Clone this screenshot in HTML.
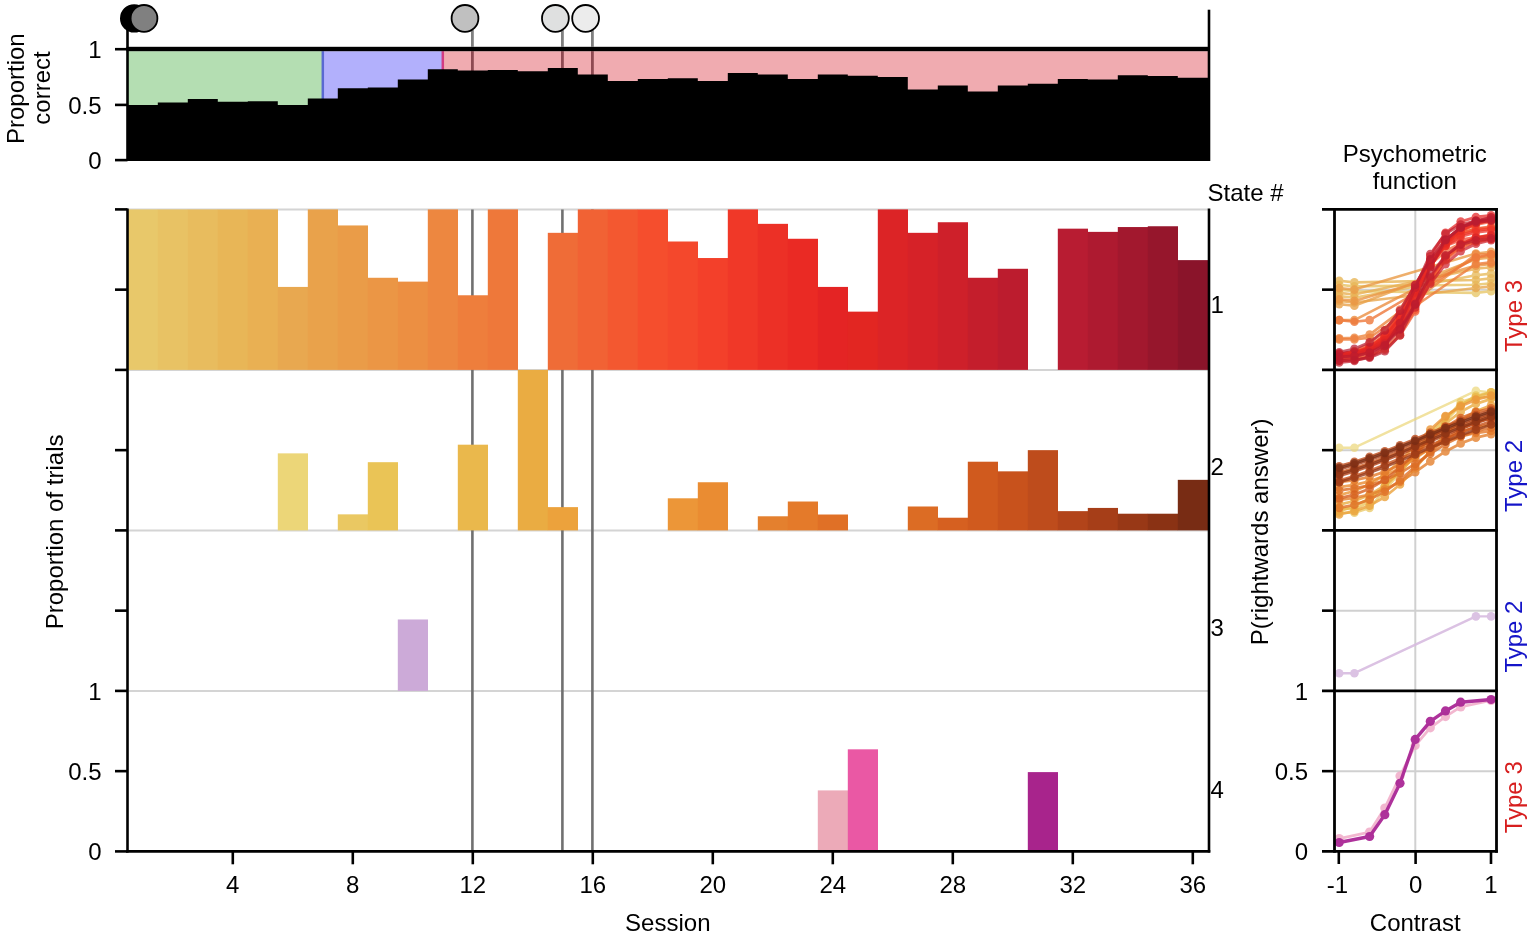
<!DOCTYPE html>
<html><head><meta charset="utf-8"><title>Figure</title>
<style>
html,body{margin:0;padding:0;background:#fff;}
body{width:1536px;height:937px;overflow:hidden;}
svg{display:block;font-family:"Liberation Sans", Arial, Helvetica, sans-serif;}
</style></head>
<body>
<svg width="1536" height="937" viewBox="0 0 1536 937">
<rect width="1536" height="937" fill="#fff"/>
<rect x="127.8" y="51.2" width="195.0" height="109.8" fill="#b4deb2"/>
<rect x="322.8" y="51.2" width="120" height="109.8" fill="#b2b0fc"/>
<rect x="442.8" y="51.2" width="765.8" height="109.8" fill="#f0abb0"/>
<line x1="322.8" y1="51.2" x2="322.8" y2="100" stroke="#5a69d2" stroke-width="2.5"/>
<line x1="442.8" y1="51.2" x2="442.8" y2="80" stroke="#d23c82" stroke-width="2.5"/>
<line x1="472.40000000000003" y1="51.2" x2="472.40000000000003" y2="71.5" stroke="#8e4a52" stroke-width="2.8"/>
<line x1="562.4" y1="51.2" x2="562.4" y2="68.9" stroke="#8e4a52" stroke-width="2.8"/>
<line x1="592.4" y1="51.2" x2="592.4" y2="75.6" stroke="#8e4a52" stroke-width="2.8"/>
<path d="M127.8 161.0 L127.8 105.1 L157.8 105.1 L157.8 102.5 L187.8 102.5 L187.8 99.1 L217.8 99.1 L217.8 101.7 L247.8 101.7 L247.8 101.2 L277.8 101.2 L277.8 105.1 L307.8 105.1 L307.8 98.6 L337.8 98.6 L337.8 88.2 L367.8 88.2 L367.8 87.4 L397.8 87.4 L397.8 79.6 L427.8 79.6 L427.8 69.2 L457.8 69.2 L457.8 70.5 L487.8 70.5 L487.8 70.0 L517.8 70.0 L517.8 71.3 L547.8 71.3 L547.8 67.9 L577.8 67.9 L577.8 74.6 L607.8 74.6 L607.8 80.9 L637.8 80.9 L637.8 79.1 L667.8 79.1 L667.8 78.3 L697.8 78.3 L697.8 80.9 L727.8 80.9 L727.8 73.1 L757.8 73.1 L757.8 74.6 L787.8 74.6 L787.8 79.1 L817.8 79.1 L817.8 74.6 L847.8 74.6 L847.8 75.7 L877.8 75.7 L877.8 77.0 L907.8 77.0 L907.8 89.5 L937.8 89.5 L937.8 85.6 L967.8 85.6 L967.8 91.6 L997.8 91.6 L997.8 85.6 L1027.8 85.6 L1027.8 83.75 L1057.8 83.75 L1057.8 79.1 L1087.8 79.1 L1087.8 79.6 L1117.8 79.6 L1117.8 75.2 L1147.8 75.2 L1147.8 75.9 L1177.8 75.9 L1177.8 77.8 L1207.8 77.8 L1209.8 77.8 L1209.8 161.0 Z" fill="#000"/>
<rect x="126.5" y="46.8" width="1083.3" height="4.4" fill="#000"/>
<line x1="127.5" y1="28" x2="127.5" y2="161.0" stroke="#000" stroke-width="2.6"/>
<line x1="1209" y1="9.7" x2="1209" y2="161.0" stroke="#000" stroke-width="2.6"/>
<line x1="115" y1="49.2" x2="127.5" y2="49.2" stroke="#000" stroke-width="2.6"/>
<line x1="115" y1="104.9" x2="127.5" y2="104.9" stroke="#000" stroke-width="2.6"/>
<line x1="115" y1="160.1" x2="127.5" y2="160.1" stroke="#000" stroke-width="2.6"/>
<line x1="472.40000000000003" y1="30" x2="472.40000000000003" y2="47" stroke="#808080" stroke-width="2.8"/>
<line x1="562.4" y1="30" x2="562.4" y2="47" stroke="#808080" stroke-width="2.8"/>
<line x1="592.4" y1="30" x2="592.4" y2="47" stroke="#808080" stroke-width="2.8"/>
<circle cx="134.2" cy="18.4" r="13.3" fill="#000" stroke="#000" stroke-width="1.8"/>
<circle cx="144.0" cy="18.4" r="13.4" fill="#808080" stroke="#000" stroke-width="1.8"/>
<circle cx="465.0" cy="18.4" r="13.4" fill="#c0c0c0" stroke="#000" stroke-width="1.8"/>
<circle cx="555.4" cy="18.4" r="13.4" fill="#dfe0e0" stroke="#000" stroke-width="1.8"/>
<circle cx="585.6" cy="18.4" r="13.4" fill="#ececec" stroke="#000" stroke-width="1.8"/>
<text x="101.5" y="58.0" font-size="24" text-anchor="end" fill="#000" >1</text>
<text x="101.5" y="113.5" font-size="24" text-anchor="end" fill="#000" >0.5</text>
<text x="101.5" y="169.2" font-size="24" text-anchor="end" fill="#000" >0</text>
<text transform="translate(23.6,88.7) rotate(-90)" font-size="24" text-anchor="middle" fill="#000" >Proportion</text>
<text transform="translate(49.6,88.0) rotate(-90)" font-size="24" text-anchor="middle" fill="#000" >correct</text>
<line x1="128.8" y1="209.4" x2="1208" y2="209.4" stroke="#d4d4d4" stroke-width="2"/>
<line x1="128.8" y1="369.9" x2="1208" y2="369.9" stroke="#d4d4d4" stroke-width="2"/>
<line x1="128.8" y1="530.4" x2="1208" y2="530.4" stroke="#d4d4d4" stroke-width="2"/>
<line x1="128.8" y1="690.9" x2="1208" y2="690.9" stroke="#d4d4d4" stroke-width="2"/>
<line x1="472.40000000000003" y1="209.4" x2="472.40000000000003" y2="851.4" stroke="#707070" stroke-width="2.6"/>
<line x1="562.4" y1="209.4" x2="562.4" y2="851.4" stroke="#707070" stroke-width="2.6"/>
<line x1="592.4" y1="209.4" x2="592.4" y2="851.4" stroke="#707070" stroke-width="2.6"/>
<rect x="127.8" y="209.40" width="30.2" height="160.50" fill="#e8c86a"/>
<rect x="157.8" y="209.40" width="30.2" height="160.50" fill="#e8c264"/>
<rect x="187.8" y="209.40" width="30.2" height="160.50" fill="#e8bc5e"/>
<rect x="217.8" y="209.40" width="30.2" height="160.50" fill="#e8b657"/>
<rect x="247.8" y="209.40" width="30.2" height="160.50" fill="#e9b053"/>
<rect x="277.8" y="286.92" width="30.2" height="82.98" fill="#e8a850"/>
<rect x="307.8" y="209.40" width="30.2" height="160.50" fill="#e9a24b"/>
<rect x="337.8" y="225.45" width="30.2" height="144.45" fill="#ea9c48"/>
<rect x="367.8" y="277.77" width="30.2" height="92.13" fill="#eb9645"/>
<rect x="397.8" y="281.62" width="30.2" height="88.28" fill="#ec8f42"/>
<rect x="427.8" y="209.40" width="30.2" height="160.50" fill="#ed8740"/>
<rect x="457.8" y="295.27" width="30.2" height="74.63" fill="#ee7e3c"/>
<rect x="487.8" y="209.40" width="30.2" height="160.50" fill="#ee783a"/>
<rect x="547.8" y="232.83" width="30.2" height="137.07" fill="#ef6c37"/>
<rect x="577.8" y="209.40" width="30.2" height="160.50" fill="#f16234"/>
<rect x="607.8" y="209.40" width="30.2" height="160.50" fill="#f35830"/>
<rect x="637.8" y="209.40" width="30.2" height="160.50" fill="#f54e2d"/>
<rect x="667.8" y="241.50" width="30.2" height="128.40" fill="#f4482c"/>
<rect x="697.8" y="258.03" width="30.2" height="111.87" fill="#f3402a"/>
<rect x="727.8" y="209.40" width="30.2" height="160.50" fill="#f03828"/>
<rect x="757.8" y="223.84" width="30.2" height="146.06" fill="#ec3026"/>
<rect x="787.8" y="238.77" width="30.2" height="131.13" fill="#ea2a24"/>
<rect x="817.8" y="286.92" width="30.2" height="82.98" fill="#e42424"/>
<rect x="847.8" y="311.64" width="30.2" height="58.26" fill="#e22622"/>
<rect x="877.8" y="209.40" width="30.2" height="160.50" fill="#dc2426"/>
<rect x="907.8" y="232.83" width="30.2" height="137.07" fill="#d62228"/>
<rect x="937.8" y="222.24" width="30.2" height="147.66" fill="#ce202a"/>
<rect x="967.8" y="277.77" width="30.2" height="92.13" fill="#c41e2c"/>
<rect x="997.8" y="268.78" width="30.2" height="101.11" fill="#bc1c2e"/>
<rect x="1057.8" y="228.66" width="30.2" height="141.24" fill="#b81c32"/>
<rect x="1087.8" y="231.87" width="30.2" height="138.03" fill="#ae1a30"/>
<rect x="1117.8" y="227.05" width="30.2" height="142.84" fill="#a2182e"/>
<rect x="1147.8" y="226.25" width="30.2" height="143.65" fill="#96162c"/>
<rect x="1177.8" y="260.12" width="30.2" height="109.78" fill="#8a142a"/>
<rect x="277.8" y="453.36" width="30.2" height="77.04" fill="#ecd678"/>
<rect x="337.8" y="514.35" width="30.2" height="16.05" fill="#eac862"/>
<rect x="367.8" y="462.19" width="30.2" height="68.21" fill="#eac456"/>
<rect x="457.8" y="444.69" width="30.2" height="85.71" fill="#eab84c"/>
<rect x="517.8" y="369.90" width="30.2" height="160.50" fill="#eaac42"/>
<rect x="547.8" y="507.13" width="30.2" height="23.27" fill="#eca23c"/>
<rect x="667.8" y="498.30" width="30.2" height="32.10" fill="#ec9638"/>
<rect x="697.8" y="482.25" width="30.2" height="48.15" fill="#ea8c32"/>
<rect x="757.8" y="516.28" width="30.2" height="14.12" fill="#e4802e"/>
<rect x="787.8" y="501.51" width="30.2" height="28.89" fill="#e47a2a"/>
<rect x="817.8" y="514.51" width="30.2" height="15.89" fill="#e07026"/>
<rect x="907.8" y="506.49" width="30.2" height="23.91" fill="#dc6c24"/>
<rect x="937.8" y="517.72" width="30.2" height="12.68" fill="#d66020"/>
<rect x="967.8" y="461.71" width="30.2" height="68.69" fill="#d05a1e"/>
<rect x="997.8" y="471.34" width="30.2" height="59.06" fill="#c8521c"/>
<rect x="1027.8" y="450.15" width="30.2" height="80.25" fill="#be4c1c"/>
<rect x="1057.8" y="511.14" width="30.2" height="19.26" fill="#b2441a"/>
<rect x="1087.8" y="507.93" width="30.2" height="22.47" fill="#a63e18"/>
<rect x="1117.8" y="513.71" width="30.2" height="16.69" fill="#983816"/>
<rect x="1147.8" y="513.71" width="30.2" height="16.69" fill="#8a3214"/>
<rect x="1177.8" y="479.84" width="30.2" height="50.56" fill="#782c14"/>
<rect x="397.8" y="619.48" width="30.2" height="71.42" fill="#ccaad8"/>
<rect x="817.8" y="790.41" width="30.2" height="60.99" fill="#ecaab8"/>
<rect x="847.8" y="749.32" width="30.2" height="102.08" fill="#ea58a4"/>
<rect x="1027.8" y="772.11" width="30.2" height="79.29" fill="#a8248c"/>
<line x1="127.5" y1="208.4" x2="127.5" y2="852.6" stroke="#000" stroke-width="2.6"/>
<line x1="1209" y1="208.4" x2="1209" y2="852.6" stroke="#000" stroke-width="2.6"/>
<line x1="126.2" y1="851.4" x2="1210.3" y2="851.4" stroke="#000" stroke-width="2.6"/>
<line x1="115" y1="209.4" x2="127.5" y2="209.4" stroke="#000" stroke-width="2.6"/>
<line x1="115" y1="289.65" x2="127.5" y2="289.65" stroke="#000" stroke-width="2.6"/>
<line x1="115" y1="369.9" x2="127.5" y2="369.9" stroke="#000" stroke-width="2.6"/>
<line x1="115" y1="450.15" x2="127.5" y2="450.15" stroke="#000" stroke-width="2.6"/>
<line x1="115" y1="530.4" x2="127.5" y2="530.4" stroke="#000" stroke-width="2.6"/>
<line x1="115" y1="610.65" x2="127.5" y2="610.65" stroke="#000" stroke-width="2.6"/>
<line x1="115" y1="690.9" x2="127.5" y2="690.9" stroke="#000" stroke-width="2.6"/>
<line x1="115" y1="771.15" x2="127.5" y2="771.15" stroke="#000" stroke-width="2.6"/>
<line x1="115" y1="851.4" x2="127.5" y2="851.4" stroke="#000" stroke-width="2.6"/>
<line x1="232.8" y1="851.4" x2="232.8" y2="864.3" stroke="#000" stroke-width="2.6"/>
<text x="232.8" y="893.2" font-size="24" text-anchor="middle" fill="#000" >4</text>
<line x1="352.8" y1="851.4" x2="352.8" y2="864.3" stroke="#000" stroke-width="2.6"/>
<text x="352.8" y="893.2" font-size="24" text-anchor="middle" fill="#000" >8</text>
<line x1="472.8" y1="851.4" x2="472.8" y2="864.3" stroke="#000" stroke-width="2.6"/>
<text x="472.8" y="893.2" font-size="24" text-anchor="middle" fill="#000" >12</text>
<line x1="592.8" y1="851.4" x2="592.8" y2="864.3" stroke="#000" stroke-width="2.6"/>
<text x="592.8" y="893.2" font-size="24" text-anchor="middle" fill="#000" >16</text>
<line x1="712.8" y1="851.4" x2="712.8" y2="864.3" stroke="#000" stroke-width="2.6"/>
<text x="712.8" y="893.2" font-size="24" text-anchor="middle" fill="#000" >20</text>
<line x1="832.8" y1="851.4" x2="832.8" y2="864.3" stroke="#000" stroke-width="2.6"/>
<text x="832.8" y="893.2" font-size="24" text-anchor="middle" fill="#000" >24</text>
<line x1="952.8" y1="851.4" x2="952.8" y2="864.3" stroke="#000" stroke-width="2.6"/>
<text x="952.8" y="893.2" font-size="24" text-anchor="middle" fill="#000" >28</text>
<line x1="1072.8" y1="851.4" x2="1072.8" y2="864.3" stroke="#000" stroke-width="2.6"/>
<text x="1072.8" y="893.2" font-size="24" text-anchor="middle" fill="#000" >32</text>
<line x1="1192.8" y1="851.4" x2="1192.8" y2="864.3" stroke="#000" stroke-width="2.6"/>
<text x="1192.8" y="893.2" font-size="24" text-anchor="middle" fill="#000" >36</text>
<text x="101.5" y="699.5" font-size="24" text-anchor="end" fill="#000" >1</text>
<text x="101.5" y="779.75" font-size="24" text-anchor="end" fill="#000" >0.5</text>
<text x="101.5" y="860.0" font-size="24" text-anchor="end" fill="#000" >0</text>
<text x="667.8" y="931.4" font-size="24" text-anchor="middle" fill="#000" >Session</text>
<text transform="translate(63.0,531.9) rotate(-90)" font-size="24" text-anchor="middle" fill="#000" >Proportion of trials</text>
<text x="1207.5" y="201" font-size="24" text-anchor="start" fill="#000" >State #</text>
<text x="1210.5" y="313.1" font-size="24" text-anchor="start" fill="#000" >1</text>
<text x="1210.5" y="474.6" font-size="24" text-anchor="start" fill="#000" >2</text>
<text x="1210.5" y="636.4" font-size="24" text-anchor="start" fill="#000" >3</text>
<text x="1210.5" y="797.6" font-size="24" text-anchor="start" fill="#000" >4</text>
<text transform="translate(1267.7,531.9) rotate(-90)" font-size="24" text-anchor="middle" fill="#000" >P(rightwards answer)</text>
<line x1="1415.3" y1="209.4" x2="1415.3" y2="369.9" stroke="#d0d0d0" stroke-width="2"/>
<line x1="1334.5" y1="289.65" x2="1496.5" y2="289.65" stroke="#d0d0d0" stroke-width="2"/>
<line x1="1415.3" y1="369.9" x2="1415.3" y2="530.4" stroke="#d0d0d0" stroke-width="2"/>
<line x1="1334.5" y1="450.15" x2="1496.5" y2="450.15" stroke="#d0d0d0" stroke-width="2"/>
<line x1="1415.3" y1="530.4" x2="1415.3" y2="690.9" stroke="#d0d0d0" stroke-width="2"/>
<line x1="1334.5" y1="610.65" x2="1496.5" y2="610.65" stroke="#d0d0d0" stroke-width="2"/>
<line x1="1415.3" y1="690.9" x2="1415.3" y2="851.4" stroke="#d0d0d0" stroke-width="2"/>
<line x1="1334.5" y1="771.15" x2="1496.5" y2="771.15" stroke="#d0d0d0" stroke-width="2"/>
<g>
<g opacity="0.8"><polyline points="1339.2,289.6 1354.4,291.3 1475.9,292.9 1491.1,291.3" fill="none" stroke="#e8c86a" stroke-width="2.6" stroke-linejoin="round"/>
<circle cx="1339.2" cy="289.6" r="4.3" fill="#e8c86a"/>
<circle cx="1354.4" cy="291.3" r="4.3" fill="#e8c86a"/>
<circle cx="1475.9" cy="292.9" r="4.3" fill="#e8c86a"/>
<circle cx="1491.1" cy="291.3" r="4.3" fill="#e8c86a"/>
</g>
<g opacity="0.8"><polyline points="1339.2,284.8 1354.4,286.4 1475.9,284.8 1491.1,283.2" fill="none" stroke="#e8c264" stroke-width="2.6" stroke-linejoin="round"/>
<circle cx="1339.2" cy="284.8" r="4.3" fill="#e8c264"/>
<circle cx="1354.4" cy="286.4" r="4.3" fill="#e8c264"/>
<circle cx="1475.9" cy="284.8" r="4.3" fill="#e8c264"/>
<circle cx="1491.1" cy="283.2" r="4.3" fill="#e8c264"/>
</g>
<g opacity="0.8"><polyline points="1339.2,296.1 1354.4,297.7 1475.9,275.2 1491.1,273.6" fill="none" stroke="#e8bc5e" stroke-width="2.6" stroke-linejoin="round"/>
<circle cx="1339.2" cy="296.1" r="4.3" fill="#e8bc5e"/>
<circle cx="1354.4" cy="297.7" r="4.3" fill="#e8bc5e"/>
<circle cx="1475.9" cy="275.2" r="4.3" fill="#e8bc5e"/>
<circle cx="1491.1" cy="273.6" r="4.3" fill="#e8bc5e"/>
</g>
<g opacity="0.8"><polyline points="1339.2,280.8 1354.4,282.4 1475.9,280.0 1491.1,278.4" fill="none" stroke="#e8b657" stroke-width="2.6" stroke-linejoin="round"/>
<circle cx="1339.2" cy="280.8" r="4.3" fill="#e8b657"/>
<circle cx="1354.4" cy="282.4" r="4.3" fill="#e8b657"/>
<circle cx="1475.9" cy="280.0" r="4.3" fill="#e8b657"/>
<circle cx="1491.1" cy="278.4" r="4.3" fill="#e8b657"/>
</g>
<g opacity="0.8"><polyline points="1339.2,292.9 1354.4,294.5 1475.9,268.8 1491.1,267.2" fill="none" stroke="#e9b053" stroke-width="2.6" stroke-linejoin="round"/>
<circle cx="1339.2" cy="292.9" r="4.3" fill="#e9b053"/>
<circle cx="1354.4" cy="294.5" r="4.3" fill="#e9b053"/>
<circle cx="1475.9" cy="268.8" r="4.3" fill="#e9b053"/>
<circle cx="1491.1" cy="267.2" r="4.3" fill="#e9b053"/>
</g>
<g opacity="0.8"><polyline points="1339.2,300.9 1354.4,302.5 1475.9,288.0 1491.1,286.4" fill="none" stroke="#e8a850" stroke-width="2.6" stroke-linejoin="round"/>
<circle cx="1339.2" cy="300.9" r="4.3" fill="#e8a850"/>
<circle cx="1354.4" cy="302.5" r="4.3" fill="#e8a850"/>
<circle cx="1475.9" cy="288.0" r="4.3" fill="#e8a850"/>
<circle cx="1491.1" cy="286.4" r="4.3" fill="#e8a850"/>
</g>
<g opacity="0.8"><polyline points="1339.2,304.1 1354.4,305.7 1475.9,259.2 1491.1,257.5" fill="none" stroke="#e9a24b" stroke-width="2.6" stroke-linejoin="round"/>
<circle cx="1339.2" cy="304.1" r="4.3" fill="#e9a24b"/>
<circle cx="1354.4" cy="305.7" r="4.3" fill="#e9a24b"/>
<circle cx="1475.9" cy="259.2" r="4.3" fill="#e9a24b"/>
<circle cx="1491.1" cy="257.5" r="4.3" fill="#e9a24b"/>
</g>
<g opacity="0.8"><polyline points="1339.2,288.0 1354.4,289.6 1475.9,253.5 1491.1,251.9" fill="none" stroke="#ea9c48" stroke-width="2.6" stroke-linejoin="round"/>
<circle cx="1339.2" cy="288.0" r="4.3" fill="#ea9c48"/>
<circle cx="1354.4" cy="289.6" r="4.3" fill="#ea9c48"/>
<circle cx="1475.9" cy="253.5" r="4.3" fill="#ea9c48"/>
<circle cx="1491.1" cy="251.9" r="4.3" fill="#ea9c48"/>
</g>
<g opacity="0.8"><polyline points="1339.2,299.3 1354.4,300.9 1475.9,265.6 1491.1,264.0" fill="none" stroke="#eb9645" stroke-width="2.6" stroke-linejoin="round"/>
<circle cx="1339.2" cy="299.3" r="4.3" fill="#eb9645"/>
<circle cx="1354.4" cy="300.9" r="4.3" fill="#eb9645"/>
<circle cx="1475.9" cy="265.6" r="4.3" fill="#eb9645"/>
<circle cx="1491.1" cy="264.0" r="4.3" fill="#eb9645"/>
</g>
<g opacity="0.8"><polyline points="1339.2,320.1 1354.4,320.1 1475.9,257.5 1491.1,255.9" fill="none" stroke="#ec8f42" stroke-width="2.6" stroke-linejoin="round"/>
<circle cx="1339.2" cy="320.1" r="4.3" fill="#ec8f42"/>
<circle cx="1354.4" cy="320.1" r="4.3" fill="#ec8f42"/>
<circle cx="1475.9" cy="257.5" r="4.3" fill="#ec8f42"/>
<circle cx="1491.1" cy="255.9" r="4.3" fill="#ec8f42"/>
</g>
<g opacity="0.8"><polyline points="1339.2,338.4 1354.4,337.8 1369.6,334.6 1475.9,254.3 1491.1,254.3" fill="none" stroke="#ed8740" stroke-width="2.6" stroke-linejoin="round"/>
<circle cx="1339.2" cy="338.4" r="4.3" fill="#ed8740"/>
<circle cx="1354.4" cy="337.8" r="4.3" fill="#ed8740"/>
<circle cx="1369.6" cy="334.6" r="4.3" fill="#ed8740"/>
<circle cx="1475.9" cy="254.3" r="4.3" fill="#ed8740"/>
<circle cx="1491.1" cy="254.3" r="4.3" fill="#ed8740"/>
</g>
<g opacity="0.8"><polyline points="1339.2,339.4 1354.4,339.4 1369.6,337.8 1475.9,264.0 1491.1,262.4" fill="none" stroke="#ee7e3c" stroke-width="2.6" stroke-linejoin="round"/>
<circle cx="1339.2" cy="339.4" r="4.3" fill="#ee7e3c"/>
<circle cx="1354.4" cy="339.4" r="4.3" fill="#ee7e3c"/>
<circle cx="1369.6" cy="337.8" r="4.3" fill="#ee7e3c"/>
<circle cx="1475.9" cy="264.0" r="4.3" fill="#ee7e3c"/>
<circle cx="1491.1" cy="262.4" r="4.3" fill="#ee7e3c"/>
</g>
<g opacity="0.8"><polyline points="1339.2,320.1 1354.4,321.8 1369.6,320.1 1475.9,257.5 1491.1,254.3" fill="none" stroke="#ee783a" stroke-width="2.6" stroke-linejoin="round"/>
<circle cx="1339.2" cy="320.1" r="4.3" fill="#ee783a"/>
<circle cx="1354.4" cy="321.8" r="4.3" fill="#ee783a"/>
<circle cx="1369.6" cy="320.1" r="4.3" fill="#ee783a"/>
<circle cx="1475.9" cy="257.5" r="4.3" fill="#ee783a"/>
<circle cx="1491.1" cy="254.3" r="4.3" fill="#ee783a"/>
</g>
<g opacity="0.72"><polyline points="1339.2,359.9 1354.4,357.3 1369.6,351.6 1384.8,339.6 1400.0,318.3 1415.2,289.6 1430.3,262.2 1445.5,243.5 1460.7,233.5 1475.9,228.8 1491.1,226.7" fill="none" stroke="#ef6c37" stroke-width="3.0" stroke-linejoin="round"/>
<circle cx="1339.2" cy="359.9" r="4.3" fill="#ef6c37"/>
<circle cx="1354.4" cy="357.3" r="4.3" fill="#ef6c37"/>
<circle cx="1369.6" cy="351.6" r="4.3" fill="#ef6c37"/>
<circle cx="1384.8" cy="339.6" r="4.3" fill="#ef6c37"/>
<circle cx="1400.0" cy="318.3" r="4.3" fill="#ef6c37"/>
<circle cx="1415.2" cy="289.6" r="4.3" fill="#ef6c37"/>
<circle cx="1430.3" cy="262.2" r="4.3" fill="#ef6c37"/>
<circle cx="1445.5" cy="243.5" r="4.3" fill="#ef6c37"/>
<circle cx="1460.7" cy="233.5" r="4.3" fill="#ef6c37"/>
<circle cx="1475.9" cy="228.8" r="4.3" fill="#ef6c37"/>
<circle cx="1491.1" cy="226.7" r="4.3" fill="#ef6c37"/>
</g>
<g opacity="0.72"><polyline points="1339.2,354.7 1354.4,351.1 1369.6,343.8 1384.8,330.3 1400.0,309.6 1415.2,285.5 1430.3,264.6 1445.5,251.0 1460.7,243.5 1475.9,239.8 1491.1,238.1" fill="none" stroke="#f16234" stroke-width="3.0" stroke-linejoin="round"/>
<circle cx="1339.2" cy="354.7" r="4.3" fill="#f16234"/>
<circle cx="1354.4" cy="351.1" r="4.3" fill="#f16234"/>
<circle cx="1369.6" cy="343.8" r="4.3" fill="#f16234"/>
<circle cx="1384.8" cy="330.3" r="4.3" fill="#f16234"/>
<circle cx="1400.0" cy="309.6" r="4.3" fill="#f16234"/>
<circle cx="1415.2" cy="285.5" r="4.3" fill="#f16234"/>
<circle cx="1430.3" cy="264.6" r="4.3" fill="#f16234"/>
<circle cx="1445.5" cy="251.0" r="4.3" fill="#f16234"/>
<circle cx="1460.7" cy="243.5" r="4.3" fill="#f16234"/>
<circle cx="1475.9" cy="239.8" r="4.3" fill="#f16234"/>
<circle cx="1491.1" cy="238.1" r="4.3" fill="#f16234"/>
</g>
<g opacity="0.72"><polyline points="1339.2,360.8 1354.4,359.5 1369.6,356.6 1384.8,349.8 1400.0,335.5 1415.2,311.5 1430.3,282.4 1445.5,258.5 1460.7,244.4 1475.9,237.6 1491.1,234.7" fill="none" stroke="#f35830" stroke-width="3.0" stroke-linejoin="round"/>
<circle cx="1339.2" cy="360.8" r="4.3" fill="#f35830"/>
<circle cx="1354.4" cy="359.5" r="4.3" fill="#f35830"/>
<circle cx="1369.6" cy="356.6" r="4.3" fill="#f35830"/>
<circle cx="1384.8" cy="349.8" r="4.3" fill="#f35830"/>
<circle cx="1400.0" cy="335.5" r="4.3" fill="#f35830"/>
<circle cx="1415.2" cy="311.5" r="4.3" fill="#f35830"/>
<circle cx="1430.3" cy="282.4" r="4.3" fill="#f35830"/>
<circle cx="1445.5" cy="258.5" r="4.3" fill="#f35830"/>
<circle cx="1460.7" cy="244.4" r="4.3" fill="#f35830"/>
<circle cx="1475.9" cy="237.6" r="4.3" fill="#f35830"/>
<circle cx="1491.1" cy="234.7" r="4.3" fill="#f35830"/>
</g>
<g opacity="0.72"><polyline points="1339.2,354.9 1354.4,353.9 1369.6,350.8 1384.8,343.0 1400.0,325.4 1415.2,295.8 1430.3,264.1 1445.5,243.0 1460.7,233.0 1475.9,229.1 1491.1,227.6" fill="none" stroke="#f54e2d" stroke-width="3.0" stroke-linejoin="round"/>
<circle cx="1339.2" cy="354.9" r="4.3" fill="#f54e2d"/>
<circle cx="1354.4" cy="353.9" r="4.3" fill="#f54e2d"/>
<circle cx="1369.6" cy="350.8" r="4.3" fill="#f54e2d"/>
<circle cx="1384.8" cy="343.0" r="4.3" fill="#f54e2d"/>
<circle cx="1400.0" cy="325.4" r="4.3" fill="#f54e2d"/>
<circle cx="1415.2" cy="295.8" r="4.3" fill="#f54e2d"/>
<circle cx="1430.3" cy="264.1" r="4.3" fill="#f54e2d"/>
<circle cx="1445.5" cy="243.0" r="4.3" fill="#f54e2d"/>
<circle cx="1460.7" cy="233.0" r="4.3" fill="#f54e2d"/>
<circle cx="1475.9" cy="229.1" r="4.3" fill="#f54e2d"/>
<circle cx="1491.1" cy="227.6" r="4.3" fill="#f54e2d"/>
</g>
<g opacity="0.72"><polyline points="1339.2,355.6 1354.4,353.0 1369.6,347.3 1384.8,335.8 1400.0,315.8 1415.2,288.2 1430.3,260.4 1445.5,239.9 1460.7,228.2 1475.9,222.3 1491.1,219.5" fill="none" stroke="#f4482c" stroke-width="3.0" stroke-linejoin="round"/>
<circle cx="1339.2" cy="355.6" r="4.3" fill="#f4482c"/>
<circle cx="1354.4" cy="353.0" r="4.3" fill="#f4482c"/>
<circle cx="1369.6" cy="347.3" r="4.3" fill="#f4482c"/>
<circle cx="1384.8" cy="335.8" r="4.3" fill="#f4482c"/>
<circle cx="1400.0" cy="315.8" r="4.3" fill="#f4482c"/>
<circle cx="1415.2" cy="288.2" r="4.3" fill="#f4482c"/>
<circle cx="1430.3" cy="260.4" r="4.3" fill="#f4482c"/>
<circle cx="1445.5" cy="239.9" r="4.3" fill="#f4482c"/>
<circle cx="1460.7" cy="228.2" r="4.3" fill="#f4482c"/>
<circle cx="1475.9" cy="222.3" r="4.3" fill="#f4482c"/>
<circle cx="1491.1" cy="219.5" r="4.3" fill="#f4482c"/>
</g>
<g opacity="0.72"><polyline points="1339.2,356.1 1354.4,354.5 1369.6,350.8 1384.8,342.7 1400.0,327.3 1415.2,303.8 1430.3,278.0 1445.5,258.2 1460.7,246.7 1475.9,241.1 1491.1,238.6" fill="none" stroke="#f16234" stroke-width="3.0" stroke-linejoin="round"/>
<circle cx="1339.2" cy="356.1" r="4.3" fill="#f16234"/>
<circle cx="1354.4" cy="354.5" r="4.3" fill="#f16234"/>
<circle cx="1369.6" cy="350.8" r="4.3" fill="#f16234"/>
<circle cx="1384.8" cy="342.7" r="4.3" fill="#f16234"/>
<circle cx="1400.0" cy="327.3" r="4.3" fill="#f16234"/>
<circle cx="1415.2" cy="303.8" r="4.3" fill="#f16234"/>
<circle cx="1430.3" cy="278.0" r="4.3" fill="#f16234"/>
<circle cx="1445.5" cy="258.2" r="4.3" fill="#f16234"/>
<circle cx="1460.7" cy="246.7" r="4.3" fill="#f16234"/>
<circle cx="1475.9" cy="241.1" r="4.3" fill="#f16234"/>
<circle cx="1491.1" cy="238.6" r="4.3" fill="#f16234"/>
</g>
<g opacity="0.72"><polyline points="1339.2,360.2 1354.4,358.9 1369.6,355.8 1384.8,348.5 1400.0,333.7 1415.2,309.6 1430.3,281.8 1445.5,260.1 1460.7,247.6 1475.9,241.8 1491.1,239.3" fill="none" stroke="#f35830" stroke-width="3.0" stroke-linejoin="round"/>
<circle cx="1339.2" cy="360.2" r="4.3" fill="#f35830"/>
<circle cx="1354.4" cy="358.9" r="4.3" fill="#f35830"/>
<circle cx="1369.6" cy="355.8" r="4.3" fill="#f35830"/>
<circle cx="1384.8" cy="348.5" r="4.3" fill="#f35830"/>
<circle cx="1400.0" cy="333.7" r="4.3" fill="#f35830"/>
<circle cx="1415.2" cy="309.6" r="4.3" fill="#f35830"/>
<circle cx="1430.3" cy="281.8" r="4.3" fill="#f35830"/>
<circle cx="1445.5" cy="260.1" r="4.3" fill="#f35830"/>
<circle cx="1460.7" cy="247.6" r="4.3" fill="#f35830"/>
<circle cx="1475.9" cy="241.8" r="4.3" fill="#f35830"/>
<circle cx="1491.1" cy="239.3" r="4.3" fill="#f35830"/>
</g>
<g opacity="0.72"><polyline points="1339.2,354.5 1354.4,351.9 1369.6,346.5 1384.8,336.0 1400.0,318.0 1415.2,292.8 1430.3,266.0 1445.5,244.6 1460.7,231.1 1475.9,223.9 1491.1,220.3" fill="none" stroke="#f54e2d" stroke-width="3.0" stroke-linejoin="round"/>
<circle cx="1339.2" cy="354.5" r="4.3" fill="#f54e2d"/>
<circle cx="1354.4" cy="351.9" r="4.3" fill="#f54e2d"/>
<circle cx="1369.6" cy="346.5" r="4.3" fill="#f54e2d"/>
<circle cx="1384.8" cy="336.0" r="4.3" fill="#f54e2d"/>
<circle cx="1400.0" cy="318.0" r="4.3" fill="#f54e2d"/>
<circle cx="1415.2" cy="292.8" r="4.3" fill="#f54e2d"/>
<circle cx="1430.3" cy="266.0" r="4.3" fill="#f54e2d"/>
<circle cx="1445.5" cy="244.6" r="4.3" fill="#f54e2d"/>
<circle cx="1460.7" cy="231.1" r="4.3" fill="#f54e2d"/>
<circle cx="1475.9" cy="223.9" r="4.3" fill="#f54e2d"/>
<circle cx="1491.1" cy="220.3" r="4.3" fill="#f54e2d"/>
</g>
<g opacity="0.72"><polyline points="1339.2,357.3 1354.4,354.1 1369.6,347.4 1384.8,335.0 1400.0,314.6 1415.2,288.1 1430.3,261.9 1445.5,242.5 1460.7,230.8 1475.9,224.6 1491.1,221.6" fill="none" stroke="#f4482c" stroke-width="3.0" stroke-linejoin="round"/>
<circle cx="1339.2" cy="357.3" r="4.3" fill="#f4482c"/>
<circle cx="1354.4" cy="354.1" r="4.3" fill="#f4482c"/>
<circle cx="1369.6" cy="347.4" r="4.3" fill="#f4482c"/>
<circle cx="1384.8" cy="335.0" r="4.3" fill="#f4482c"/>
<circle cx="1400.0" cy="314.6" r="4.3" fill="#f4482c"/>
<circle cx="1415.2" cy="288.1" r="4.3" fill="#f4482c"/>
<circle cx="1430.3" cy="261.9" r="4.3" fill="#f4482c"/>
<circle cx="1445.5" cy="242.5" r="4.3" fill="#f4482c"/>
<circle cx="1460.7" cy="230.8" r="4.3" fill="#f4482c"/>
<circle cx="1475.9" cy="224.6" r="4.3" fill="#f4482c"/>
<circle cx="1491.1" cy="221.6" r="4.3" fill="#f4482c"/>
</g>
<g opacity="0.72"><polyline points="1339.2,354.0 1354.4,352.2 1369.6,347.4 1384.8,336.0 1400.0,314.1 1415.2,284.7 1430.3,259.9 1445.5,245.9 1460.7,239.8 1475.9,237.4 1491.1,236.5" fill="none" stroke="#f3402a" stroke-width="3.0" stroke-linejoin="round"/>
<circle cx="1339.2" cy="354.0" r="4.3" fill="#f3402a"/>
<circle cx="1354.4" cy="352.2" r="4.3" fill="#f3402a"/>
<circle cx="1369.6" cy="347.4" r="4.3" fill="#f3402a"/>
<circle cx="1384.8" cy="336.0" r="4.3" fill="#f3402a"/>
<circle cx="1400.0" cy="314.1" r="4.3" fill="#f3402a"/>
<circle cx="1415.2" cy="284.7" r="4.3" fill="#f3402a"/>
<circle cx="1430.3" cy="259.9" r="4.3" fill="#f3402a"/>
<circle cx="1445.5" cy="245.9" r="4.3" fill="#f3402a"/>
<circle cx="1460.7" cy="239.8" r="4.3" fill="#f3402a"/>
<circle cx="1475.9" cy="237.4" r="4.3" fill="#f3402a"/>
<circle cx="1491.1" cy="236.5" r="4.3" fill="#f3402a"/>
</g>
<g opacity="0.72"><polyline points="1339.2,353.4 1354.4,352.0 1369.6,348.6 1384.8,340.2 1400.0,322.7 1415.2,294.9 1430.3,265.5 1445.5,245.2 1460.7,234.9 1475.9,230.6 1491.1,228.8" fill="none" stroke="#f03828" stroke-width="3.0" stroke-linejoin="round"/>
<circle cx="1339.2" cy="353.4" r="4.3" fill="#f03828"/>
<circle cx="1354.4" cy="352.0" r="4.3" fill="#f03828"/>
<circle cx="1369.6" cy="348.6" r="4.3" fill="#f03828"/>
<circle cx="1384.8" cy="340.2" r="4.3" fill="#f03828"/>
<circle cx="1400.0" cy="322.7" r="4.3" fill="#f03828"/>
<circle cx="1415.2" cy="294.9" r="4.3" fill="#f03828"/>
<circle cx="1430.3" cy="265.5" r="4.3" fill="#f03828"/>
<circle cx="1445.5" cy="245.2" r="4.3" fill="#f03828"/>
<circle cx="1460.7" cy="234.9" r="4.3" fill="#f03828"/>
<circle cx="1475.9" cy="230.6" r="4.3" fill="#f03828"/>
<circle cx="1491.1" cy="228.8" r="4.3" fill="#f03828"/>
</g>
<g opacity="0.72"><polyline points="1339.2,357.2 1354.4,354.8 1369.6,349.3 1384.8,337.7 1400.0,317.3 1415.2,289.7 1430.3,263.6 1445.5,246.0 1460.7,236.6 1475.9,232.3 1491.1,230.4" fill="none" stroke="#ec3026" stroke-width="3.0" stroke-linejoin="round"/>
<circle cx="1339.2" cy="357.2" r="4.3" fill="#ec3026"/>
<circle cx="1354.4" cy="354.8" r="4.3" fill="#ec3026"/>
<circle cx="1369.6" cy="349.3" r="4.3" fill="#ec3026"/>
<circle cx="1384.8" cy="337.7" r="4.3" fill="#ec3026"/>
<circle cx="1400.0" cy="317.3" r="4.3" fill="#ec3026"/>
<circle cx="1415.2" cy="289.7" r="4.3" fill="#ec3026"/>
<circle cx="1430.3" cy="263.6" r="4.3" fill="#ec3026"/>
<circle cx="1445.5" cy="246.0" r="4.3" fill="#ec3026"/>
<circle cx="1460.7" cy="236.6" r="4.3" fill="#ec3026"/>
<circle cx="1475.9" cy="232.3" r="4.3" fill="#ec3026"/>
<circle cx="1491.1" cy="230.4" r="4.3" fill="#ec3026"/>
</g>
<g opacity="0.72"><polyline points="1339.2,355.8 1354.4,353.1 1369.6,347.5 1384.8,336.6 1400.0,318.1 1415.2,292.4 1430.3,265.3 1445.5,243.9 1460.7,230.4 1475.9,223.2 1491.1,219.7" fill="none" stroke="#ea2a24" stroke-width="3.0" stroke-linejoin="round"/>
<circle cx="1339.2" cy="355.8" r="4.3" fill="#ea2a24"/>
<circle cx="1354.4" cy="353.1" r="4.3" fill="#ea2a24"/>
<circle cx="1369.6" cy="347.5" r="4.3" fill="#ea2a24"/>
<circle cx="1384.8" cy="336.6" r="4.3" fill="#ea2a24"/>
<circle cx="1400.0" cy="318.1" r="4.3" fill="#ea2a24"/>
<circle cx="1415.2" cy="292.4" r="4.3" fill="#ea2a24"/>
<circle cx="1430.3" cy="265.3" r="4.3" fill="#ea2a24"/>
<circle cx="1445.5" cy="243.9" r="4.3" fill="#ea2a24"/>
<circle cx="1460.7" cy="230.4" r="4.3" fill="#ea2a24"/>
<circle cx="1475.9" cy="223.2" r="4.3" fill="#ea2a24"/>
<circle cx="1491.1" cy="219.7" r="4.3" fill="#ea2a24"/>
</g>
<g opacity="0.72"><polyline points="1339.2,354.7 1354.4,353.5 1369.6,350.3 1384.8,341.9 1400.0,323.1 1415.2,291.1 1430.3,256.4 1445.5,232.9 1460.7,221.6 1475.9,217.1 1491.1,215.4" fill="none" stroke="#e42424" stroke-width="3.0" stroke-linejoin="round"/>
<circle cx="1339.2" cy="354.7" r="4.3" fill="#e42424"/>
<circle cx="1354.4" cy="353.5" r="4.3" fill="#e42424"/>
<circle cx="1369.6" cy="350.3" r="4.3" fill="#e42424"/>
<circle cx="1384.8" cy="341.9" r="4.3" fill="#e42424"/>
<circle cx="1400.0" cy="323.1" r="4.3" fill="#e42424"/>
<circle cx="1415.2" cy="291.1" r="4.3" fill="#e42424"/>
<circle cx="1430.3" cy="256.4" r="4.3" fill="#e42424"/>
<circle cx="1445.5" cy="232.9" r="4.3" fill="#e42424"/>
<circle cx="1460.7" cy="221.6" r="4.3" fill="#e42424"/>
<circle cx="1475.9" cy="217.1" r="4.3" fill="#e42424"/>
<circle cx="1491.1" cy="215.4" r="4.3" fill="#e42424"/>
</g>
<g opacity="0.72"><polyline points="1339.2,354.2 1354.4,352.5 1369.6,348.8 1384.8,340.4 1400.0,324.0 1415.2,297.6 1430.3,267.1 1445.5,242.5 1460.7,227.8 1475.9,220.6 1491.1,217.4" fill="none" stroke="#e22622" stroke-width="3.0" stroke-linejoin="round"/>
<circle cx="1339.2" cy="354.2" r="4.3" fill="#e22622"/>
<circle cx="1354.4" cy="352.5" r="4.3" fill="#e22622"/>
<circle cx="1369.6" cy="348.8" r="4.3" fill="#e22622"/>
<circle cx="1384.8" cy="340.4" r="4.3" fill="#e22622"/>
<circle cx="1400.0" cy="324.0" r="4.3" fill="#e22622"/>
<circle cx="1415.2" cy="297.6" r="4.3" fill="#e22622"/>
<circle cx="1430.3" cy="267.1" r="4.3" fill="#e22622"/>
<circle cx="1445.5" cy="242.5" r="4.3" fill="#e22622"/>
<circle cx="1460.7" cy="227.8" r="4.3" fill="#e22622"/>
<circle cx="1475.9" cy="220.6" r="4.3" fill="#e22622"/>
<circle cx="1491.1" cy="217.4" r="4.3" fill="#e22622"/>
</g>
<g opacity="0.72"><polyline points="1339.2,355.7 1354.4,354.2 1369.6,350.7 1384.8,342.9 1400.0,327.8 1415.2,304.0 1430.3,277.2 1445.5,256.2 1460.7,243.8 1475.9,237.8 1491.1,235.2" fill="none" stroke="#dc2426" stroke-width="3.0" stroke-linejoin="round"/>
<circle cx="1339.2" cy="355.7" r="4.3" fill="#dc2426"/>
<circle cx="1354.4" cy="354.2" r="4.3" fill="#dc2426"/>
<circle cx="1369.6" cy="350.7" r="4.3" fill="#dc2426"/>
<circle cx="1384.8" cy="342.9" r="4.3" fill="#dc2426"/>
<circle cx="1400.0" cy="327.8" r="4.3" fill="#dc2426"/>
<circle cx="1415.2" cy="304.0" r="4.3" fill="#dc2426"/>
<circle cx="1430.3" cy="277.2" r="4.3" fill="#dc2426"/>
<circle cx="1445.5" cy="256.2" r="4.3" fill="#dc2426"/>
<circle cx="1460.7" cy="243.8" r="4.3" fill="#dc2426"/>
<circle cx="1475.9" cy="237.8" r="4.3" fill="#dc2426"/>
<circle cx="1491.1" cy="235.2" r="4.3" fill="#dc2426"/>
</g>
<g opacity="0.72"><polyline points="1339.2,359.3 1354.4,357.1 1369.6,352.6 1384.8,343.9 1400.0,328.9 1415.2,307.5 1430.3,283.8 1445.5,264.1 1460.7,251.1 1475.9,243.8 1491.1,240.1" fill="none" stroke="#ce202a" stroke-width="3.0" stroke-linejoin="round"/>
<circle cx="1339.2" cy="359.3" r="4.3" fill="#ce202a"/>
<circle cx="1354.4" cy="357.1" r="4.3" fill="#ce202a"/>
<circle cx="1369.6" cy="352.6" r="4.3" fill="#ce202a"/>
<circle cx="1384.8" cy="343.9" r="4.3" fill="#ce202a"/>
<circle cx="1400.0" cy="328.9" r="4.3" fill="#ce202a"/>
<circle cx="1415.2" cy="307.5" r="4.3" fill="#ce202a"/>
<circle cx="1430.3" cy="283.8" r="4.3" fill="#ce202a"/>
<circle cx="1445.5" cy="264.1" r="4.3" fill="#ce202a"/>
<circle cx="1460.7" cy="251.1" r="4.3" fill="#ce202a"/>
<circle cx="1475.9" cy="243.8" r="4.3" fill="#ce202a"/>
<circle cx="1491.1" cy="240.1" r="4.3" fill="#ce202a"/>
</g>
<g opacity="0.72"><polyline points="1339.2,362.5 1354.4,360.9 1369.6,356.7 1384.8,346.0 1400.0,323.0 1415.2,287.8 1430.3,254.1 1445.5,233.7 1460.7,224.6 1475.9,221.0 1491.1,219.7" fill="none" stroke="#c41e2c" stroke-width="3.0" stroke-linejoin="round"/>
<circle cx="1339.2" cy="362.5" r="4.3" fill="#c41e2c"/>
<circle cx="1354.4" cy="360.9" r="4.3" fill="#c41e2c"/>
<circle cx="1369.6" cy="356.7" r="4.3" fill="#c41e2c"/>
<circle cx="1384.8" cy="346.0" r="4.3" fill="#c41e2c"/>
<circle cx="1400.0" cy="323.0" r="4.3" fill="#c41e2c"/>
<circle cx="1415.2" cy="287.8" r="4.3" fill="#c41e2c"/>
<circle cx="1430.3" cy="254.1" r="4.3" fill="#c41e2c"/>
<circle cx="1445.5" cy="233.7" r="4.3" fill="#c41e2c"/>
<circle cx="1460.7" cy="224.6" r="4.3" fill="#c41e2c"/>
<circle cx="1475.9" cy="221.0" r="4.3" fill="#c41e2c"/>
<circle cx="1491.1" cy="219.7" r="4.3" fill="#c41e2c"/>
</g>
<g opacity="0.72"><polyline points="1339.2,360.8 1354.4,360.0 1369.6,357.7 1384.8,351.3 1400.0,335.3 1415.2,304.7 1430.3,267.2 1445.5,240.3 1460.7,227.4 1475.9,222.4 1491.1,220.7" fill="none" stroke="#bc1c2e" stroke-width="3.0" stroke-linejoin="round"/>
<circle cx="1339.2" cy="360.8" r="4.3" fill="#bc1c2e"/>
<circle cx="1354.4" cy="360.0" r="4.3" fill="#bc1c2e"/>
<circle cx="1369.6" cy="357.7" r="4.3" fill="#bc1c2e"/>
<circle cx="1384.8" cy="351.3" r="4.3" fill="#bc1c2e"/>
<circle cx="1400.0" cy="335.3" r="4.3" fill="#bc1c2e"/>
<circle cx="1415.2" cy="304.7" r="4.3" fill="#bc1c2e"/>
<circle cx="1430.3" cy="267.2" r="4.3" fill="#bc1c2e"/>
<circle cx="1445.5" cy="240.3" r="4.3" fill="#bc1c2e"/>
<circle cx="1460.7" cy="227.4" r="4.3" fill="#bc1c2e"/>
<circle cx="1475.9" cy="222.4" r="4.3" fill="#bc1c2e"/>
<circle cx="1491.1" cy="220.7" r="4.3" fill="#bc1c2e"/>
</g>
<g opacity="0.72"><polyline points="1339.2,357.1 1354.4,355.9 1369.6,352.8 1384.8,345.3 1400.0,329.5 1415.2,303.9 1430.3,275.7 1445.5,255.4 1460.7,244.8 1475.9,240.2 1491.1,238.4" fill="none" stroke="#bc1c2e" stroke-width="3.0" stroke-linejoin="round"/>
<circle cx="1339.2" cy="357.1" r="4.3" fill="#bc1c2e"/>
<circle cx="1354.4" cy="355.9" r="4.3" fill="#bc1c2e"/>
<circle cx="1369.6" cy="352.8" r="4.3" fill="#bc1c2e"/>
<circle cx="1384.8" cy="345.3" r="4.3" fill="#bc1c2e"/>
<circle cx="1400.0" cy="329.5" r="4.3" fill="#bc1c2e"/>
<circle cx="1415.2" cy="303.9" r="4.3" fill="#bc1c2e"/>
<circle cx="1430.3" cy="275.7" r="4.3" fill="#bc1c2e"/>
<circle cx="1445.5" cy="255.4" r="4.3" fill="#bc1c2e"/>
<circle cx="1460.7" cy="244.8" r="4.3" fill="#bc1c2e"/>
<circle cx="1475.9" cy="240.2" r="4.3" fill="#bc1c2e"/>
<circle cx="1491.1" cy="238.4" r="4.3" fill="#bc1c2e"/>
</g>
<g opacity="0.72"><polyline points="1339.2,352.2 1354.4,348.9 1369.6,342.4 1384.8,330.4 1400.0,310.8 1415.2,285.0 1430.3,259.3 1445.5,239.6 1460.7,227.4 1475.9,220.9 1491.1,217.6" fill="none" stroke="#b81c32" stroke-width="3.0" stroke-linejoin="round"/>
<circle cx="1339.2" cy="352.2" r="4.3" fill="#b81c32"/>
<circle cx="1354.4" cy="348.9" r="4.3" fill="#b81c32"/>
<circle cx="1369.6" cy="342.4" r="4.3" fill="#b81c32"/>
<circle cx="1384.8" cy="330.4" r="4.3" fill="#b81c32"/>
<circle cx="1400.0" cy="310.8" r="4.3" fill="#b81c32"/>
<circle cx="1415.2" cy="285.0" r="4.3" fill="#b81c32"/>
<circle cx="1430.3" cy="259.3" r="4.3" fill="#b81c32"/>
<circle cx="1445.5" cy="239.6" r="4.3" fill="#b81c32"/>
<circle cx="1460.7" cy="227.4" r="4.3" fill="#b81c32"/>
<circle cx="1475.9" cy="220.9" r="4.3" fill="#b81c32"/>
<circle cx="1491.1" cy="217.6" r="4.3" fill="#b81c32"/>
</g>
<g opacity="0.7"><polyline points="1339.2,447.7 1354.4,447.7 1475.9,390.8 1491.1,392.4" fill="none" stroke="#ecd678" stroke-width="2.4" stroke-linejoin="round"/>
<circle cx="1339.2" cy="447.7" r="4.3" fill="#ecd678"/>
<circle cx="1354.4" cy="447.7" r="4.3" fill="#ecd678"/>
<circle cx="1475.9" cy="390.8" r="4.3" fill="#ecd678"/>
<circle cx="1491.1" cy="392.4" r="4.3" fill="#ecd678"/>
</g>
<g opacity="0.75"><polyline points="1339.2,512.7 1354.4,512.7 1369.6,507.9 1460.7,402.0 1475.9,397.2 1491.1,397.2" fill="none" stroke="#eac862" stroke-width="2.6" stroke-linejoin="round"/>
<circle cx="1339.2" cy="512.7" r="4.3" fill="#eac862"/>
<circle cx="1354.4" cy="512.7" r="4.3" fill="#eac862"/>
<circle cx="1369.6" cy="507.9" r="4.3" fill="#eac862"/>
<circle cx="1460.7" cy="402.0" r="4.3" fill="#eac862"/>
<circle cx="1475.9" cy="397.2" r="4.3" fill="#eac862"/>
<circle cx="1491.1" cy="397.2" r="4.3" fill="#eac862"/>
</g>
<g opacity="0.75"><polyline points="1339.2,507.9 1354.4,509.5 1369.6,501.5 1460.7,405.2 1475.9,395.6 1491.1,392.4" fill="none" stroke="#eac456" stroke-width="2.6" stroke-linejoin="round"/>
<circle cx="1339.2" cy="507.9" r="4.3" fill="#eac456"/>
<circle cx="1354.4" cy="509.5" r="4.3" fill="#eac456"/>
<circle cx="1369.6" cy="501.5" r="4.3" fill="#eac456"/>
<circle cx="1460.7" cy="405.2" r="4.3" fill="#eac456"/>
<circle cx="1475.9" cy="395.6" r="4.3" fill="#eac456"/>
<circle cx="1491.1" cy="392.4" r="4.3" fill="#eac456"/>
</g>
<g opacity="0.8"><polyline points="1339.2,511.1 1354.4,506.3 1369.6,498.5 1384.8,486.6 1400.0,470.6 1415.2,451.8 1430.3,432.9 1445.5,416.9 1460.7,405.0 1475.9,397.2 1491.1,392.4" fill="none" stroke="#eab84c" stroke-width="2.8" stroke-linejoin="round"/>
<circle cx="1339.2" cy="511.1" r="4.3" fill="#eab84c"/>
<circle cx="1354.4" cy="506.3" r="4.3" fill="#eab84c"/>
<circle cx="1369.6" cy="498.5" r="4.3" fill="#eab84c"/>
<circle cx="1384.8" cy="486.6" r="4.3" fill="#eab84c"/>
<circle cx="1400.0" cy="470.6" r="4.3" fill="#eab84c"/>
<circle cx="1415.2" cy="451.8" r="4.3" fill="#eab84c"/>
<circle cx="1430.3" cy="432.9" r="4.3" fill="#eab84c"/>
<circle cx="1445.5" cy="416.9" r="4.3" fill="#eab84c"/>
<circle cx="1460.7" cy="405.0" r="4.3" fill="#eab84c"/>
<circle cx="1475.9" cy="397.2" r="4.3" fill="#eab84c"/>
<circle cx="1491.1" cy="392.4" r="4.3" fill="#eab84c"/>
</g>
<g opacity="0.8"><polyline points="1339.2,504.7 1354.4,501.0 1369.6,494.9 1384.8,485.5 1400.0,472.3 1415.2,455.9 1430.3,438.8 1445.5,423.5 1460.7,411.8 1475.9,403.8 1491.1,398.8" fill="none" stroke="#eaac42" stroke-width="2.8" stroke-linejoin="round"/>
<circle cx="1339.2" cy="504.7" r="4.3" fill="#eaac42"/>
<circle cx="1354.4" cy="501.0" r="4.3" fill="#eaac42"/>
<circle cx="1369.6" cy="494.9" r="4.3" fill="#eaac42"/>
<circle cx="1384.8" cy="485.5" r="4.3" fill="#eaac42"/>
<circle cx="1400.0" cy="472.3" r="4.3" fill="#eaac42"/>
<circle cx="1415.2" cy="455.9" r="4.3" fill="#eaac42"/>
<circle cx="1430.3" cy="438.8" r="4.3" fill="#eaac42"/>
<circle cx="1445.5" cy="423.5" r="4.3" fill="#eaac42"/>
<circle cx="1460.7" cy="411.8" r="4.3" fill="#eaac42"/>
<circle cx="1475.9" cy="403.8" r="4.3" fill="#eaac42"/>
<circle cx="1491.1" cy="398.8" r="4.3" fill="#eaac42"/>
</g>
<g opacity="0.8"><polyline points="1339.2,514.4 1354.4,511.1 1369.6,505.6 1384.8,497.0 1400.0,484.5 1415.2,468.4 1430.3,450.6 1445.5,433.9 1460.7,420.6 1475.9,411.2 1491.1,405.2" fill="none" stroke="#eca23c" stroke-width="2.8" stroke-linejoin="round"/>
<circle cx="1339.2" cy="514.4" r="4.3" fill="#eca23c"/>
<circle cx="1354.4" cy="511.1" r="4.3" fill="#eca23c"/>
<circle cx="1369.6" cy="505.6" r="4.3" fill="#eca23c"/>
<circle cx="1384.8" cy="497.0" r="4.3" fill="#eca23c"/>
<circle cx="1400.0" cy="484.5" r="4.3" fill="#eca23c"/>
<circle cx="1415.2" cy="468.4" r="4.3" fill="#eca23c"/>
<circle cx="1430.3" cy="450.6" r="4.3" fill="#eca23c"/>
<circle cx="1445.5" cy="433.9" r="4.3" fill="#eca23c"/>
<circle cx="1460.7" cy="420.6" r="4.3" fill="#eca23c"/>
<circle cx="1475.9" cy="411.2" r="4.3" fill="#eca23c"/>
<circle cx="1491.1" cy="405.2" r="4.3" fill="#eca23c"/>
</g>
<g opacity="0.8"><polyline points="1339.2,495.1 1354.4,491.0 1369.6,484.5 1384.8,474.6 1400.0,461.1 1415.2,445.3 1430.3,429.5 1445.5,416.1 1460.7,406.2 1475.9,399.6 1491.1,395.6" fill="none" stroke="#ec9638" stroke-width="2.8" stroke-linejoin="round"/>
<circle cx="1339.2" cy="495.1" r="4.3" fill="#ec9638"/>
<circle cx="1354.4" cy="491.0" r="4.3" fill="#ec9638"/>
<circle cx="1369.6" cy="484.5" r="4.3" fill="#ec9638"/>
<circle cx="1384.8" cy="474.6" r="4.3" fill="#ec9638"/>
<circle cx="1400.0" cy="461.1" r="4.3" fill="#ec9638"/>
<circle cx="1415.2" cy="445.3" r="4.3" fill="#ec9638"/>
<circle cx="1430.3" cy="429.5" r="4.3" fill="#ec9638"/>
<circle cx="1445.5" cy="416.1" r="4.3" fill="#ec9638"/>
<circle cx="1460.7" cy="406.2" r="4.3" fill="#ec9638"/>
<circle cx="1475.9" cy="399.6" r="4.3" fill="#ec9638"/>
<circle cx="1491.1" cy="395.6" r="4.3" fill="#ec9638"/>
</g>
<g opacity="0.8"><polyline points="1339.2,487.1 1354.4,484.9 1369.6,481.3 1384.8,475.7 1400.0,467.9 1415.2,458.2 1430.3,448.1 1445.5,439.1 1460.7,432.2 1475.9,427.4 1491.1,424.5" fill="none" stroke="#ea8c32" stroke-width="2.8" stroke-linejoin="round"/>
<circle cx="1339.2" cy="487.1" r="4.3" fill="#ea8c32"/>
<circle cx="1354.4" cy="484.9" r="4.3" fill="#ea8c32"/>
<circle cx="1369.6" cy="481.3" r="4.3" fill="#ea8c32"/>
<circle cx="1384.8" cy="475.7" r="4.3" fill="#ea8c32"/>
<circle cx="1400.0" cy="467.9" r="4.3" fill="#ea8c32"/>
<circle cx="1415.2" cy="458.2" r="4.3" fill="#ea8c32"/>
<circle cx="1430.3" cy="448.1" r="4.3" fill="#ea8c32"/>
<circle cx="1445.5" cy="439.1" r="4.3" fill="#ea8c32"/>
<circle cx="1460.7" cy="432.2" r="4.3" fill="#ea8c32"/>
<circle cx="1475.9" cy="427.4" r="4.3" fill="#ea8c32"/>
<circle cx="1491.1" cy="424.5" r="4.3" fill="#ea8c32"/>
</g>
<g opacity="0.8"><polyline points="1339.2,499.9 1354.4,497.9 1369.6,494.6 1384.8,489.4 1400.0,481.9 1415.2,472.2 1430.3,461.4 1445.5,451.4 1460.7,443.4 1475.9,437.7 1491.1,434.1" fill="none" stroke="#e4802e" stroke-width="2.8" stroke-linejoin="round"/>
<circle cx="1339.2" cy="499.9" r="4.3" fill="#e4802e"/>
<circle cx="1354.4" cy="497.9" r="4.3" fill="#e4802e"/>
<circle cx="1369.6" cy="494.6" r="4.3" fill="#e4802e"/>
<circle cx="1384.8" cy="489.4" r="4.3" fill="#e4802e"/>
<circle cx="1400.0" cy="481.9" r="4.3" fill="#e4802e"/>
<circle cx="1415.2" cy="472.2" r="4.3" fill="#e4802e"/>
<circle cx="1430.3" cy="461.4" r="4.3" fill="#e4802e"/>
<circle cx="1445.5" cy="451.4" r="4.3" fill="#e4802e"/>
<circle cx="1460.7" cy="443.4" r="4.3" fill="#e4802e"/>
<circle cx="1475.9" cy="437.7" r="4.3" fill="#e4802e"/>
<circle cx="1491.1" cy="434.1" r="4.3" fill="#e4802e"/>
</g>
<g opacity="0.8"><polyline points="1339.2,482.2 1354.4,480.2 1369.6,476.8 1384.8,471.7 1400.0,464.7 1415.2,456.6 1430.3,448.4 1445.5,441.5 1460.7,436.4 1475.9,433.0 1491.1,430.9" fill="none" stroke="#e47a2a" stroke-width="2.8" stroke-linejoin="round"/>
<circle cx="1339.2" cy="482.2" r="4.3" fill="#e47a2a"/>
<circle cx="1354.4" cy="480.2" r="4.3" fill="#e47a2a"/>
<circle cx="1369.6" cy="476.8" r="4.3" fill="#e47a2a"/>
<circle cx="1384.8" cy="471.7" r="4.3" fill="#e47a2a"/>
<circle cx="1400.0" cy="464.7" r="4.3" fill="#e47a2a"/>
<circle cx="1415.2" cy="456.6" r="4.3" fill="#e47a2a"/>
<circle cx="1430.3" cy="448.4" r="4.3" fill="#e47a2a"/>
<circle cx="1445.5" cy="441.5" r="4.3" fill="#e47a2a"/>
<circle cx="1460.7" cy="436.4" r="4.3" fill="#e47a2a"/>
<circle cx="1475.9" cy="433.0" r="4.3" fill="#e47a2a"/>
<circle cx="1491.1" cy="430.9" r="4.3" fill="#e47a2a"/>
</g>
<g opacity="0.8"><polyline points="1339.2,507.9 1354.4,504.8 1369.6,499.6 1384.8,491.6 1400.0,480.4 1415.2,466.5 1430.3,452.0 1445.5,439.0 1460.7,429.1 1475.9,422.3 1491.1,418.0" fill="none" stroke="#e07026" stroke-width="2.8" stroke-linejoin="round"/>
<circle cx="1339.2" cy="507.9" r="4.3" fill="#e07026"/>
<circle cx="1354.4" cy="504.8" r="4.3" fill="#e07026"/>
<circle cx="1369.6" cy="499.6" r="4.3" fill="#e07026"/>
<circle cx="1384.8" cy="491.6" r="4.3" fill="#e07026"/>
<circle cx="1400.0" cy="480.4" r="4.3" fill="#e07026"/>
<circle cx="1415.2" cy="466.5" r="4.3" fill="#e07026"/>
<circle cx="1430.3" cy="452.0" r="4.3" fill="#e07026"/>
<circle cx="1445.5" cy="439.0" r="4.3" fill="#e07026"/>
<circle cx="1460.7" cy="429.1" r="4.3" fill="#e07026"/>
<circle cx="1475.9" cy="422.3" r="4.3" fill="#e07026"/>
<circle cx="1491.1" cy="418.0" r="4.3" fill="#e07026"/>
</g>
<g opacity="0.8"><polyline points="1339.2,490.3 1354.4,488.4 1369.6,485.3 1384.8,480.3 1400.0,473.1 1415.2,463.9 1430.3,453.7 1445.5,444.1 1460.7,436.5 1475.9,431.1 1491.1,427.7" fill="none" stroke="#dc6c24" stroke-width="2.8" stroke-linejoin="round"/>
<circle cx="1339.2" cy="490.3" r="4.3" fill="#dc6c24"/>
<circle cx="1354.4" cy="488.4" r="4.3" fill="#dc6c24"/>
<circle cx="1369.6" cy="485.3" r="4.3" fill="#dc6c24"/>
<circle cx="1384.8" cy="480.3" r="4.3" fill="#dc6c24"/>
<circle cx="1400.0" cy="473.1" r="4.3" fill="#dc6c24"/>
<circle cx="1415.2" cy="463.9" r="4.3" fill="#dc6c24"/>
<circle cx="1430.3" cy="453.7" r="4.3" fill="#dc6c24"/>
<circle cx="1445.5" cy="444.1" r="4.3" fill="#dc6c24"/>
<circle cx="1460.7" cy="436.5" r="4.3" fill="#dc6c24"/>
<circle cx="1475.9" cy="431.1" r="4.3" fill="#dc6c24"/>
<circle cx="1491.1" cy="427.7" r="4.3" fill="#dc6c24"/>
</g>
<g opacity="0.8"><polyline points="1339.2,498.3 1354.4,494.6 1369.6,488.7 1384.8,479.8 1400.0,467.6 1415.2,453.4 1430.3,439.1 1445.5,427.0 1460.7,418.0 1475.9,412.1 1491.1,408.4" fill="none" stroke="#d66020" stroke-width="2.8" stroke-linejoin="round"/>
<circle cx="1339.2" cy="498.3" r="4.3" fill="#d66020"/>
<circle cx="1354.4" cy="494.6" r="4.3" fill="#d66020"/>
<circle cx="1369.6" cy="488.7" r="4.3" fill="#d66020"/>
<circle cx="1384.8" cy="479.8" r="4.3" fill="#d66020"/>
<circle cx="1400.0" cy="467.6" r="4.3" fill="#d66020"/>
<circle cx="1415.2" cy="453.4" r="4.3" fill="#d66020"/>
<circle cx="1430.3" cy="439.1" r="4.3" fill="#d66020"/>
<circle cx="1445.5" cy="427.0" r="4.3" fill="#d66020"/>
<circle cx="1460.7" cy="418.0" r="4.3" fill="#d66020"/>
<circle cx="1475.9" cy="412.1" r="4.3" fill="#d66020"/>
<circle cx="1491.1" cy="408.4" r="4.3" fill="#d66020"/>
</g>
<g opacity="0.8"><polyline points="1339.2,472.6 1354.4,468.1 1369.6,463.0 1384.8,457.3 1400.0,451.2 1415.2,444.7 1430.3,438.2 1445.5,431.8 1460.7,425.7 1475.9,420.0 1491.1,414.8" fill="none" stroke="#d05a1e" stroke-width="2.8" stroke-linejoin="round"/>
<circle cx="1339.2" cy="472.6" r="4.3" fill="#d05a1e"/>
<circle cx="1354.4" cy="468.1" r="4.3" fill="#d05a1e"/>
<circle cx="1369.6" cy="463.0" r="4.3" fill="#d05a1e"/>
<circle cx="1384.8" cy="457.3" r="4.3" fill="#d05a1e"/>
<circle cx="1400.0" cy="451.2" r="4.3" fill="#d05a1e"/>
<circle cx="1415.2" cy="444.7" r="4.3" fill="#d05a1e"/>
<circle cx="1430.3" cy="438.2" r="4.3" fill="#d05a1e"/>
<circle cx="1445.5" cy="431.8" r="4.3" fill="#d05a1e"/>
<circle cx="1460.7" cy="425.7" r="4.3" fill="#d05a1e"/>
<circle cx="1475.9" cy="420.0" r="4.3" fill="#d05a1e"/>
<circle cx="1491.1" cy="414.8" r="4.3" fill="#d05a1e"/>
</g>
<g opacity="0.8"><polyline points="1339.2,480.6 1354.4,476.0 1369.6,470.7 1384.8,464.9 1400.0,458.6 1415.2,452.0 1430.3,445.3 1445.5,438.7 1460.7,432.4 1475.9,426.5 1491.1,421.3" fill="none" stroke="#c8521c" stroke-width="2.8" stroke-linejoin="round"/>
<circle cx="1339.2" cy="480.6" r="4.3" fill="#c8521c"/>
<circle cx="1354.4" cy="476.0" r="4.3" fill="#c8521c"/>
<circle cx="1369.6" cy="470.7" r="4.3" fill="#c8521c"/>
<circle cx="1384.8" cy="464.9" r="4.3" fill="#c8521c"/>
<circle cx="1400.0" cy="458.6" r="4.3" fill="#c8521c"/>
<circle cx="1415.2" cy="452.0" r="4.3" fill="#c8521c"/>
<circle cx="1430.3" cy="445.3" r="4.3" fill="#c8521c"/>
<circle cx="1445.5" cy="438.7" r="4.3" fill="#c8521c"/>
<circle cx="1460.7" cy="432.4" r="4.3" fill="#c8521c"/>
<circle cx="1475.9" cy="426.5" r="4.3" fill="#c8521c"/>
<circle cx="1491.1" cy="421.3" r="4.3" fill="#c8521c"/>
</g>
<g opacity="0.8"><polyline points="1339.2,466.2 1354.4,461.8 1369.6,456.8 1384.8,451.3 1400.0,445.3 1415.2,439.1 1430.3,432.7 1445.5,426.5 1460.7,420.5 1475.9,415.0 1491.1,410.0" fill="none" stroke="#be4c1c" stroke-width="2.8" stroke-linejoin="round"/>
<circle cx="1339.2" cy="466.2" r="4.3" fill="#be4c1c"/>
<circle cx="1354.4" cy="461.8" r="4.3" fill="#be4c1c"/>
<circle cx="1369.6" cy="456.8" r="4.3" fill="#be4c1c"/>
<circle cx="1384.8" cy="451.3" r="4.3" fill="#be4c1c"/>
<circle cx="1400.0" cy="445.3" r="4.3" fill="#be4c1c"/>
<circle cx="1415.2" cy="439.1" r="4.3" fill="#be4c1c"/>
<circle cx="1430.3" cy="432.7" r="4.3" fill="#be4c1c"/>
<circle cx="1445.5" cy="426.5" r="4.3" fill="#be4c1c"/>
<circle cx="1460.7" cy="420.5" r="4.3" fill="#be4c1c"/>
<circle cx="1475.9" cy="415.0" r="4.3" fill="#be4c1c"/>
<circle cx="1491.1" cy="410.0" r="4.3" fill="#be4c1c"/>
</g>
<g opacity="0.8"><polyline points="1339.2,475.8 1354.4,471.3 1369.6,466.2 1384.8,460.5 1400.0,454.4 1415.2,447.9 1430.3,441.4 1445.5,435.0 1460.7,428.9 1475.9,423.2 1491.1,418.0" fill="none" stroke="#b2441a" stroke-width="2.8" stroke-linejoin="round"/>
<circle cx="1339.2" cy="475.8" r="4.3" fill="#b2441a"/>
<circle cx="1354.4" cy="471.3" r="4.3" fill="#b2441a"/>
<circle cx="1369.6" cy="466.2" r="4.3" fill="#b2441a"/>
<circle cx="1384.8" cy="460.5" r="4.3" fill="#b2441a"/>
<circle cx="1400.0" cy="454.4" r="4.3" fill="#b2441a"/>
<circle cx="1415.2" cy="447.9" r="4.3" fill="#b2441a"/>
<circle cx="1430.3" cy="441.4" r="4.3" fill="#b2441a"/>
<circle cx="1445.5" cy="435.0" r="4.3" fill="#b2441a"/>
<circle cx="1460.7" cy="428.9" r="4.3" fill="#b2441a"/>
<circle cx="1475.9" cy="423.2" r="4.3" fill="#b2441a"/>
<circle cx="1491.1" cy="418.0" r="4.3" fill="#b2441a"/>
</g>
<g opacity="0.8"><polyline points="1339.2,469.4 1354.4,465.0 1369.6,460.0 1384.8,454.5 1400.0,448.5 1415.2,442.3 1430.3,436.0 1445.5,429.7 1460.7,423.8 1475.9,418.2 1491.1,413.2" fill="none" stroke="#a63e18" stroke-width="2.8" stroke-linejoin="round"/>
<circle cx="1339.2" cy="469.4" r="4.3" fill="#a63e18"/>
<circle cx="1354.4" cy="465.0" r="4.3" fill="#a63e18"/>
<circle cx="1369.6" cy="460.0" r="4.3" fill="#a63e18"/>
<circle cx="1384.8" cy="454.5" r="4.3" fill="#a63e18"/>
<circle cx="1400.0" cy="448.5" r="4.3" fill="#a63e18"/>
<circle cx="1415.2" cy="442.3" r="4.3" fill="#a63e18"/>
<circle cx="1430.3" cy="436.0" r="4.3" fill="#a63e18"/>
<circle cx="1445.5" cy="429.7" r="4.3" fill="#a63e18"/>
<circle cx="1460.7" cy="423.8" r="4.3" fill="#a63e18"/>
<circle cx="1475.9" cy="418.2" r="4.3" fill="#a63e18"/>
<circle cx="1491.1" cy="413.2" r="4.3" fill="#a63e18"/>
</g>
<g opacity="0.8"><polyline points="1339.2,482.2 1354.4,477.7 1369.6,472.6 1384.8,466.9 1400.0,460.8 1415.2,454.4 1430.3,447.8 1445.5,441.4 1460.7,435.3 1475.9,429.6 1491.1,424.5" fill="none" stroke="#983816" stroke-width="2.8" stroke-linejoin="round"/>
<circle cx="1339.2" cy="482.2" r="4.3" fill="#983816"/>
<circle cx="1354.4" cy="477.7" r="4.3" fill="#983816"/>
<circle cx="1369.6" cy="472.6" r="4.3" fill="#983816"/>
<circle cx="1384.8" cy="466.9" r="4.3" fill="#983816"/>
<circle cx="1400.0" cy="460.8" r="4.3" fill="#983816"/>
<circle cx="1415.2" cy="454.4" r="4.3" fill="#983816"/>
<circle cx="1430.3" cy="447.8" r="4.3" fill="#983816"/>
<circle cx="1445.5" cy="441.4" r="4.3" fill="#983816"/>
<circle cx="1460.7" cy="435.3" r="4.3" fill="#983816"/>
<circle cx="1475.9" cy="429.6" r="4.3" fill="#983816"/>
<circle cx="1491.1" cy="424.5" r="4.3" fill="#983816"/>
</g>
<g opacity="0.8"><polyline points="1339.2,474.2 1354.4,469.7 1369.6,464.6 1384.8,458.9 1400.0,452.8 1415.2,446.3 1430.3,439.8 1445.5,433.4 1460.7,427.3 1475.9,421.6 1491.1,416.4" fill="none" stroke="#8a3214" stroke-width="2.8" stroke-linejoin="round"/>
<circle cx="1339.2" cy="474.2" r="4.3" fill="#8a3214"/>
<circle cx="1354.4" cy="469.7" r="4.3" fill="#8a3214"/>
<circle cx="1369.6" cy="464.6" r="4.3" fill="#8a3214"/>
<circle cx="1384.8" cy="458.9" r="4.3" fill="#8a3214"/>
<circle cx="1400.0" cy="452.8" r="4.3" fill="#8a3214"/>
<circle cx="1415.2" cy="446.3" r="4.3" fill="#8a3214"/>
<circle cx="1430.3" cy="439.8" r="4.3" fill="#8a3214"/>
<circle cx="1445.5" cy="433.4" r="4.3" fill="#8a3214"/>
<circle cx="1460.7" cy="427.3" r="4.3" fill="#8a3214"/>
<circle cx="1475.9" cy="421.6" r="4.3" fill="#8a3214"/>
<circle cx="1491.1" cy="416.4" r="4.3" fill="#8a3214"/>
</g>
<g opacity="0.8"><polyline points="1339.2,467.8 1354.4,463.4 1369.6,458.4 1384.8,452.9 1400.0,446.9 1415.2,440.7 1430.3,434.4 1445.5,428.1 1460.7,422.1 1475.9,416.6 1491.1,411.6" fill="none" stroke="#782c14" stroke-width="2.8" stroke-linejoin="round"/>
<circle cx="1339.2" cy="467.8" r="4.3" fill="#782c14"/>
<circle cx="1354.4" cy="463.4" r="4.3" fill="#782c14"/>
<circle cx="1369.6" cy="458.4" r="4.3" fill="#782c14"/>
<circle cx="1384.8" cy="452.9" r="4.3" fill="#782c14"/>
<circle cx="1400.0" cy="446.9" r="4.3" fill="#782c14"/>
<circle cx="1415.2" cy="440.7" r="4.3" fill="#782c14"/>
<circle cx="1430.3" cy="434.4" r="4.3" fill="#782c14"/>
<circle cx="1445.5" cy="428.1" r="4.3" fill="#782c14"/>
<circle cx="1460.7" cy="422.1" r="4.3" fill="#782c14"/>
<circle cx="1475.9" cy="416.6" r="4.3" fill="#782c14"/>
<circle cx="1491.1" cy="411.6" r="4.3" fill="#782c14"/>
</g>
<g opacity="0.9"><polyline points="1339.2,673.2 1354.4,673.2 1475.9,616.4 1491.1,616.4" fill="none" stroke="#d8bce0" stroke-width="2.4" stroke-linejoin="round"/>
<circle cx="1339.2" cy="673.2" r="4.3" fill="#d8bce0"/>
<circle cx="1354.4" cy="673.2" r="4.3" fill="#d8bce0"/>
<circle cx="1475.9" cy="616.4" r="4.3" fill="#d8bce0"/>
<circle cx="1491.1" cy="616.4" r="4.3" fill="#d8bce0"/>
</g>
<g opacity="0.8"><polyline points="1339.2,838.6 1369.6,832.1 1384.8,808.1 1400.0,776.0 1415.2,745.5 1430.3,727.8 1445.5,716.6 1460.7,706.9 1491.1,700.5" fill="none" stroke="#f0a6c4" stroke-width="2.8" stroke-linejoin="round"/>
<circle cx="1339.2" cy="838.6" r="4.6" fill="#f0a6c4"/>
<circle cx="1369.6" cy="832.1" r="4.6" fill="#f0a6c4"/>
<circle cx="1384.8" cy="808.1" r="4.6" fill="#f0a6c4"/>
<circle cx="1400.0" cy="776.0" r="4.6" fill="#f0a6c4"/>
<circle cx="1415.2" cy="745.5" r="4.6" fill="#f0a6c4"/>
<circle cx="1430.3" cy="727.8" r="4.6" fill="#f0a6c4"/>
<circle cx="1445.5" cy="716.6" r="4.6" fill="#f0a6c4"/>
<circle cx="1460.7" cy="706.9" r="4.6" fill="#f0a6c4"/>
<circle cx="1491.1" cy="700.5" r="4.6" fill="#f0a6c4"/>
</g>
<g opacity="0.95"><polyline points="1339.2,842.5 1369.6,836.5 1384.8,814.7 1400.0,783.3 1415.2,739.4 1430.3,721.3 1445.5,710.9 1460.7,702.2 1491.1,699.5" fill="none" stroke="#aa2896" stroke-width="3.4" stroke-linejoin="round"/>
<circle cx="1339.2" cy="842.5" r="4.6" fill="#aa2896"/>
<circle cx="1369.6" cy="836.5" r="4.6" fill="#aa2896"/>
<circle cx="1384.8" cy="814.7" r="4.6" fill="#aa2896"/>
<circle cx="1400.0" cy="783.3" r="4.6" fill="#aa2896"/>
<circle cx="1415.2" cy="739.4" r="4.6" fill="#aa2896"/>
<circle cx="1430.3" cy="721.3" r="4.6" fill="#aa2896"/>
<circle cx="1445.5" cy="710.9" r="4.6" fill="#aa2896"/>
<circle cx="1460.7" cy="702.2" r="4.6" fill="#aa2896"/>
<circle cx="1491.1" cy="699.5" r="4.6" fill="#aa2896"/>
</g>
</g>
<line x1="1322" y1="209.4" x2="1497.8" y2="209.4" stroke="#000" stroke-width="2.8"/>
<line x1="1322" y1="369.9" x2="1497.8" y2="369.9" stroke="#000" stroke-width="2.8"/>
<line x1="1322" y1="530.4" x2="1497.8" y2="530.4" stroke="#000" stroke-width="2.8"/>
<line x1="1322" y1="690.9" x2="1497.8" y2="690.9" stroke="#000" stroke-width="2.8"/>
<line x1="1322" y1="851.4" x2="1497.8" y2="851.4" stroke="#000" stroke-width="2.8"/>
<line x1="1322" y1="289.65" x2="1334.5" y2="289.65" stroke="#000" stroke-width="2.6"/>
<line x1="1322" y1="450.15" x2="1334.5" y2="450.15" stroke="#000" stroke-width="2.6"/>
<line x1="1322" y1="610.65" x2="1334.5" y2="610.65" stroke="#000" stroke-width="2.6"/>
<line x1="1322" y1="771.15" x2="1334.5" y2="771.15" stroke="#000" stroke-width="2.6"/>
<line x1="1334.5" y1="208.1" x2="1334.5" y2="852.6999999999999" stroke="#000" stroke-width="2.8"/>
<line x1="1496.5" y1="208.1" x2="1496.5" y2="852.6999999999999" stroke="#000" stroke-width="2.8"/>
<line x1="1338.8" y1="851.4" x2="1338.8" y2="864.0" stroke="#000" stroke-width="2.6"/>
<line x1="1415.6" y1="851.4" x2="1415.6" y2="864.0" stroke="#000" stroke-width="2.6"/>
<line x1="1491.0" y1="851.4" x2="1491.0" y2="864.0" stroke="#000" stroke-width="2.6"/>
<text x="1337.5" y="893.4" font-size="24" text-anchor="middle" fill="#000" >-1</text>
<text x="1415.6" y="893.4" font-size="24" text-anchor="middle" fill="#000" >0</text>
<text x="1491.0" y="893.4" font-size="24" text-anchor="middle" fill="#000" >1</text>
<text x="1415.2" y="931" font-size="24" text-anchor="middle" fill="#000" >Contrast</text>
<text x="1308" y="699.5" font-size="24" text-anchor="end" fill="#000" >1</text>
<text x="1308" y="779.75" font-size="24" text-anchor="end" fill="#000" >0.5</text>
<text x="1308" y="860.0" font-size="24" text-anchor="end" fill="#000" >0</text>
<text x="1414.8" y="161.5" font-size="24" text-anchor="middle" fill="#000" >Psychometric</text>
<text x="1414.8" y="189.0" font-size="24" text-anchor="middle" fill="#000" >function</text>
<text transform="translate(1521.5,316) rotate(-90)" font-size="24" text-anchor="middle" fill="#d71e1e" >Type 3</text>
<text transform="translate(1521.5,476) rotate(-90)" font-size="24" text-anchor="middle" fill="#1414c8" >Type 2</text>
<text transform="translate(1521.5,636.6) rotate(-90)" font-size="24" text-anchor="middle" fill="#1414c8" >Type 2</text>
<text transform="translate(1521.5,797.3) rotate(-90)" font-size="24" text-anchor="middle" fill="#d71e1e" >Type 3</text>
</svg>
</body></html>
